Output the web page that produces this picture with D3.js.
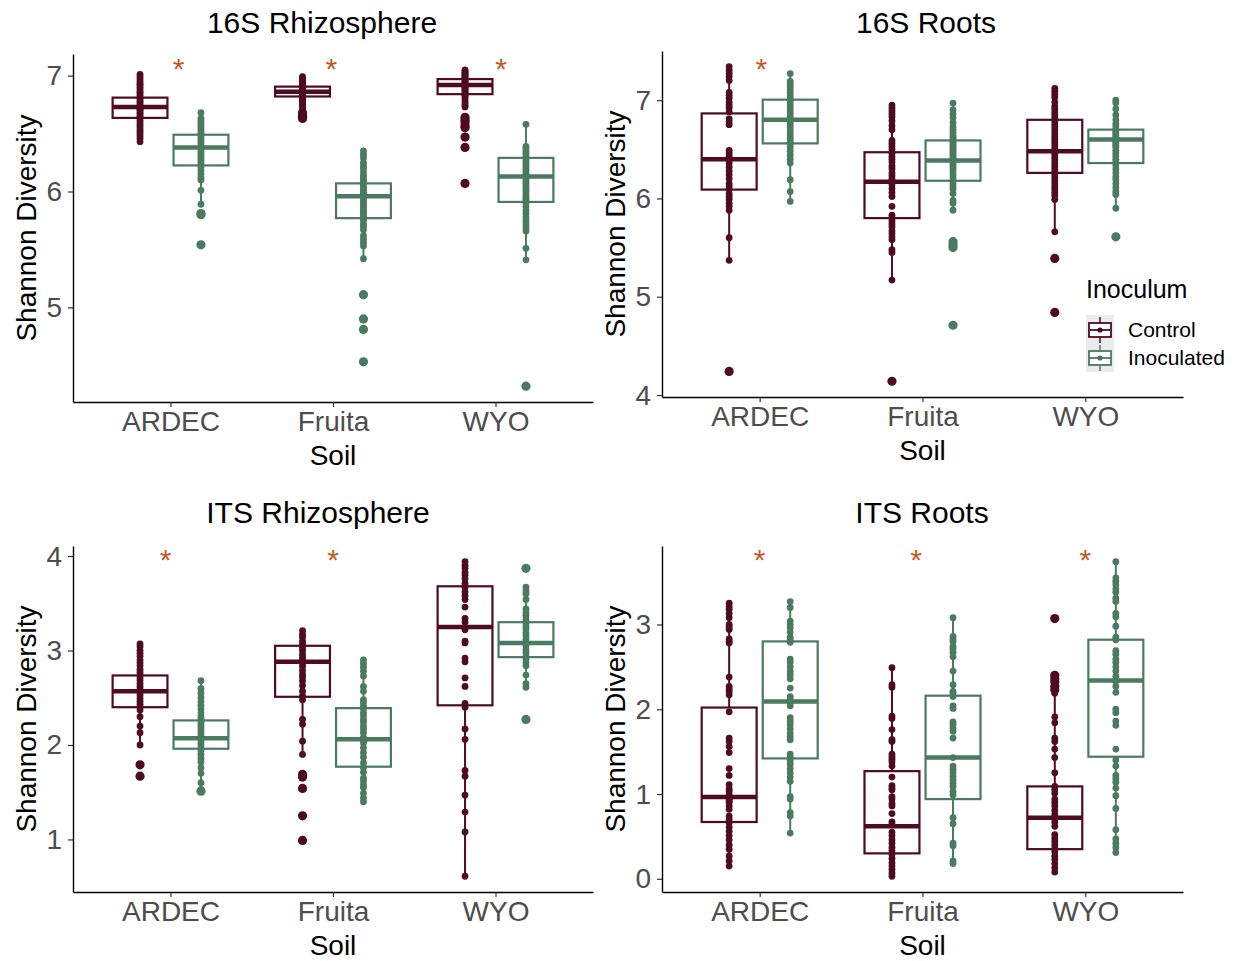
<!DOCTYPE html>
<html>
<head>
<meta charset="utf-8">
<script src="https://cdn.jsdelivr.net/npm/d3@7"></script>
<style>
  body { margin: 0; background: #fff; }
  text { font-family: "Liberation Sans", Arial, Helvetica, sans-serif; }
</style>
</head>
<body>
<div id="chart"></div>
<script>
// Shannon diversity boxplots, 4 panels

// Pt. 0 - DATA

const soils = ["ARDEC", "Fruita", "WYO"];
const treatments = ["Control", "Inoculated"];
const panelTitles = ["16S Rhizosphere", "16S Roots", "ITS Rhizosphere", "ITS Roots"];

// 16S Rhizosphere
const rhizo16Control = [
  [7.01, 6.99, 6.97, 6.95, 6.93, 6.92, 6.90, 6.88, 6.86, 6.85, 6.83, 6.81, 6.80, 6.78, 6.77, 6.75, 6.74, 6.73,
   6.72, 6.71, 6.70, 6.68, 6.67, 6.65, 6.64, 6.62, 6.60, 6.58, 6.56, 6.54, 6.52, 6.50, 6.48, 6.46, 6.43],
  [6.99, 6.98, 6.97, 6.96, 6.95, 6.94, 6.93, 6.92, 6.91, 6.90, 6.89, 6.88, 6.87, 6.86, 6.85, 6.84, 6.83, 6.82,
   6.81, 6.80, 6.79, 6.78, 6.77, 6.76, 6.75, 6.74, 6.72, 6.70, 6.68, 6.66, 6.65, 6.64, 6.63],
  [7.05, 7.04, 7.03, 7.02, 7.01, 7.00, 6.99, 6.98, 6.97, 6.96, 6.95, 6.94, 6.93, 6.92, 6.91, 6.90, 6.89, 6.88,
   6.87, 6.86, 6.85, 6.84, 6.83, 6.82, 6.80, 6.78, 6.76, 6.74, 6.73, 6.64, 6.62, 6.60, 6.57, 6.55, 6.47, 6.38, 6.07]
];
const rhizo16Inoc = [
  [6.68, 6.63, 6.61, 6.59, 6.57, 6.55, 6.53, 6.51, 6.49, 6.47, 6.45, 6.43, 6.41, 6.39, 6.38, 6.37, 6.35, 6.33,
   6.31, 6.29, 6.27, 6.25, 6.23, 6.21, 6.18, 6.15, 6.12, 6.10, 6.01, 5.89, 5.81, 5.80, 5.54],
  [6.35, 6.32, 6.29, 6.25, 6.22, 6.20, 6.17, 6.14, 6.12, 6.10, 6.08, 6.06, 6.04, 6.02, 6.00, 5.98, 5.97, 5.96,
   5.95, 5.93, 5.91, 5.89, 5.87, 5.85, 5.83, 5.81, 5.79, 5.77, 5.75, 5.72, 5.70, 5.67, 5.62, 5.59, 5.56, 5.53,
   5.42, 5.11, 4.90, 4.81, 4.53],
  [6.58, 6.39, 6.37, 6.35, 6.33, 6.31, 6.29, 6.27, 6.25, 6.23, 6.21, 6.19, 6.17, 6.15, 6.14, 6.13, 6.12, 6.10,
   6.08, 6.06, 6.04, 6.02, 6.00, 5.98, 5.96, 5.94, 5.92, 5.90, 5.87, 5.84, 5.81, 5.78, 5.75, 5.72, 5.69, 5.66,
   5.51, 5.41, 4.32]
];
const rhizo16ControlBox = [[6.635, 6.73, 6.81], [6.82, 6.86, 6.905], [6.84, 6.92, 6.97]];  // q1, median, q3
const rhizo16InocBox = [[6.225, 6.38, 6.49], [5.77, 5.96, 6.07], [5.91, 6.13, 6.29]];
const rhizo16Ticks = [5, 6, 7];
const rhizo16StarX = [1.05, 1.99, 3.035];
const rhizo16StarY = [7.09, 7.09, 7.09];

// 16S Roots
const roots16Control = [
  [7.34, 7.30, 7.27, 7.24, 7.20, 7.08, 7.05, 7.02, 6.98, 6.95, 6.92, 6.88, 6.81, 6.78, 6.75, 6.49, 6.46, 6.43,
   6.39, 6.36, 6.32, 6.28, 6.24, 6.20, 6.15, 6.12, 6.09, 6.05, 6.02, 5.99, 5.95, 5.92, 5.88, 5.60, 5.37, 4.24],
  [6.95, 6.92, 6.89, 6.86, 6.83, 6.79, 6.74, 6.70, 6.59, 6.56, 6.53, 6.50, 6.46, 6.43, 6.40, 6.37, 6.33, 6.30,
   6.26, 6.23, 6.20, 6.17, 6.14, 6.10, 6.06, 6.02, 5.92, 5.83, 5.80, 5.77, 5.74, 5.71, 5.67, 5.64, 5.61, 5.58,
   5.48, 5.45, 5.17, 4.14],
  [7.12, 7.09, 7.06, 7.03, 6.98, 6.94, 6.91, 6.88, 6.85, 6.82, 6.78, 6.75, 6.72, 6.69, 6.66, 6.63, 6.60, 6.57,
   6.54, 6.51, 6.48, 6.45, 6.42, 6.39, 6.36, 6.33, 6.30, 6.27, 6.24, 6.21, 6.18, 6.15, 6.12, 6.09, 6.06, 6.03,
   5.99, 5.66, 5.39, 4.84]
];
const roots16Inoc = [
  [7.27, 7.19, 7.16, 7.13, 7.10, 7.07, 7.04, 7.01, 6.98, 6.95, 6.92, 6.89, 6.86, 6.83, 6.80, 6.78, 6.76, 6.73,
   6.70, 6.67, 6.64, 6.61, 6.58, 6.55, 6.52, 6.48, 6.44, 6.40, 6.36, 6.19, 6.07, 5.97],
  [6.97, 6.90, 6.86, 6.82, 6.77, 6.73, 6.70, 6.67, 6.64, 6.62, 6.60, 6.58, 6.56, 6.54, 6.52, 6.50, 6.48, 6.46,
   6.44, 6.42, 6.40, 6.38, 6.36, 6.34, 6.32, 6.30, 6.27, 6.24, 6.21, 6.18, 6.15, 6.12, 6.09, 6.05, 5.98, 5.95,
   5.88, 5.56, 5.53, 5.50, 4.71],
  [7.00, 6.97, 6.91, 6.85, 6.80, 6.76, 6.73, 6.70, 6.68, 6.66, 6.64, 6.62, 6.60, 6.58, 6.56, 6.54, 6.52, 6.49,
   6.46, 6.43, 6.40, 6.37, 6.34, 6.30, 6.26, 6.22, 6.19, 6.15, 6.11, 6.07, 6.04, 5.90, 5.61]
];
const roots16ControlBox = [[6.09, 6.40, 6.865], [5.80, 6.17, 6.47], [6.26, 6.48, 6.80]];
const roots16InocBox = [[6.56, 6.80, 7.005], [6.18, 6.385, 6.59], [6.36, 6.60, 6.70]];
const roots16Ticks = [4, 5, 6, 7];
const roots16StarX = [1.01];
const roots16StarY = [7.355];

// ITS Rhizosphere
const rhizoItsControl = [
  [3.07, 3.04, 3.00, 2.97, 2.94, 2.90, 2.87, 2.84, 2.80, 2.77, 2.74, 2.71, 2.68, 2.65, 2.62, 2.59, 2.57, 2.55,
   2.52, 2.49, 2.46, 2.43, 2.40, 2.37, 2.30, 2.20, 2.13, 2.00, 1.79, 1.67],
  [3.21, 3.17, 3.14, 3.10, 3.07, 3.03, 3.00, 2.96, 2.93, 2.90, 2.86, 2.83, 2.79, 2.75, 2.72, 2.68, 2.63, 2.57,
   2.52, 2.48, 2.27, 2.22, 2.04, 1.90, 1.69, 1.66, 1.54, 1.25, 0.99],
  [3.94, 3.90, 3.87, 3.83, 3.80, 3.76, 3.71, 3.67, 3.62, 3.58, 3.54, 3.46, 3.34, 3.30, 3.24, 3.22, 3.10, 3.08,
   2.92, 2.88, 2.71, 2.62, 2.44, 2.40, 2.17, 2.06, 1.73, 1.67, 1.47, 1.29, 1.08, 0.61]
];
const rhizoItsInoc = [
  [2.68, 2.60, 2.55, 2.50, 2.46, 2.42, 2.38, 2.34, 2.30, 2.27, 2.24, 2.21, 2.18, 2.15, 2.12, 2.09, 2.06, 2.03,
   2.00, 1.97, 1.94, 1.90, 1.86, 1.82, 1.76, 1.70, 1.60, 1.53, 1.51],
  [2.90, 2.86, 2.82, 2.78, 2.73, 2.62, 2.57, 2.48, 2.45, 2.41, 2.38, 2.34, 2.31, 2.27, 2.24, 2.20, 2.17, 2.13,
   2.08, 2.05, 2.02, 1.97, 1.92, 1.87, 1.81, 1.76, 1.71, 1.65, 1.62, 1.58, 1.55, 1.49, 1.44, 1.40],
  [3.87, 3.67, 3.63, 3.60, 3.54, 3.44, 3.40, 3.37, 3.33, 3.30, 3.26, 3.23, 3.19, 3.16, 3.12, 3.08, 3.05, 3.01,
   2.98, 2.94, 2.91, 2.87, 2.84, 2.74, 2.65, 2.61, 2.27]
];
const rhizoItsControlBox = [[2.40, 2.57, 2.736], [2.51, 2.88, 3.05], [2.42, 3.25, 3.68]];
const rhizoItsInocBox = [[1.96, 2.07, 2.26], [1.77, 2.06, 2.39], [2.93, 3.08, 3.30]];
const rhizoItsTicks = [1, 2, 3, 4];
const rhizoItsStarX = [0.97, 2.0];
const rhizoItsStarY = [4.0, 4.0];

// ITS Roots
const rootsItsControl = [
  [3.25, 3.21, 3.18, 3.13, 3.08, 3.00, 2.97, 2.94, 2.83, 2.80, 2.78, 2.38, 2.27, 2.24, 2.21, 2.17, 1.97, 1.66,
   1.62, 1.56, 1.49, 1.30, 1.22, 1.11, 1.06, 1.03, 0.99, 0.97, 0.95, 0.94, 0.92, 0.90, 0.86, 0.82, 0.74, 0.70,
   0.66, 0.61, 0.56, 0.51, 0.46, 0.40, 0.35, 0.27, 0.21, 0.15],
  [2.49, 2.29, 2.26, 1.92, 1.89, 1.76, 1.64, 1.62, 1.47, 1.44, 1.41, 1.38, 1.33, 1.20, 1.10, 1.07, 1.05, 0.97,
   0.94, 0.89, 0.86, 0.77, 0.67, 0.64, 0.55, 0.51, 0.46, 0.42, 0.37, 0.33, 0.29, 0.24, 0.19, 0.15, 0.11, 0.07, 0.03],
  [3.07, 2.40, 2.36, 2.32, 2.27, 2.23, 2.19, 1.91, 1.84, 1.66, 1.62, 1.53, 1.43, 1.25, 1.09, 1.05, 1.01, 0.94,
   0.90, 0.86, 0.81, 0.76, 0.71, 0.67, 0.62, 0.52, 0.48, 0.44, 0.40, 0.36, 0.32, 0.27, 0.23, 0.18, 0.13, 0.08]
];
const rootsItsInoc = [
  [3.27, 3.20, 3.04, 3.00, 2.96, 2.91, 2.85, 2.82, 2.79, 2.59, 2.55, 2.50, 2.45, 2.41, 2.36, 2.25, 2.15, 2.12,
   2.08, 2.04, 1.90, 1.86, 1.82, 1.77, 1.72, 1.68, 1.64, 1.47, 1.43, 1.39, 1.35, 1.30, 1.25, 1.20, 1.15, 0.97,
   0.94, 0.78, 0.74, 0.54],
  [3.08, 2.86, 2.83, 2.80, 2.74, 2.71, 2.67, 2.62, 2.45, 2.29, 2.21, 2.19, 2.15, 2.04, 2.01, 1.85, 1.82, 1.78,
   1.74, 1.66, 1.43, 1.33, 1.29, 1.25, 1.21, 1.17, 1.13, 1.09, 1.03, 0.99, 0.72, 0.65, 0.42, 0.39, 0.21, 0.18],
  [3.74, 3.55, 3.51, 3.47, 3.42, 3.38, 3.31, 3.27, 3.13, 3.09, 2.98, 2.85, 2.82, 2.69, 2.65, 2.59, 2.55, 2.50,
   2.45, 2.39, 2.33, 2.27, 2.20, 2.00, 1.96, 1.86, 1.81, 1.53, 1.40, 1.33, 1.22, 1.18, 1.14, 1.07, 0.98, 0.83,
   0.58, 0.47, 0.42, 0.37, 0.31]
];
const rootsItsControlBox = [[0.67, 0.965, 2.02], [0.30, 0.62, 1.27], [0.35, 0.72, 1.09]];
const rootsItsInocBox = [[1.42, 2.09, 2.80], [0.94, 1.43, 2.16], [1.44, 2.34, 2.82]];
const rootsItsTicks = [0, 1, 2, 3];
const rootsItsStarX = [1.0, 1.96, 3.0];
const rootsItsStarY = [3.81, 3.81, 3.81];

// Pt. 1 - SETUP

const width = 1236,
      height = 961;

const colors = { Control: "#4f0b21", Inoculated: "#4a7a5f" };
const starColor = "#c8581c";

let svg = d3.select("#chart")
    .append("svg")
    .attr("width", width)
    .attr("height", height)
    .attr("viewBox", [0, 0, width, height]);

const panels = [
  { title: panelTitles[0], ctrl: rhizo16Control, inoc: rhizo16Inoc, ctrlBox: rhizo16ControlBox, inocBox: rhizo16InocBox,
    ticks: rhizo16Ticks, starX: rhizo16StarX, starY: rhizo16StarY,
    left: 73, right: 593, top: 54, bottom: 402, titleX: 322, titleY: 33 },
  { title: panelTitles[1], ctrl: roots16Control, inoc: roots16Inoc, ctrlBox: roots16ControlBox, inocBox: roots16InocBox,
    ticks: roots16Ticks, starX: roots16StarX, starY: roots16StarY,
    left: 662, right: 1183, top: 51, bottom: 397, titleX: 926, titleY: 33 },
  { title: panelTitles[2], ctrl: rhizoItsControl, inoc: rhizoItsInoc, ctrlBox: rhizoItsControlBox, inocBox: rhizoItsInocBox,
    ticks: rhizoItsTicks, starX: rhizoItsStarX, starY: rhizoItsStarY,
    left: 73, right: 593, top: 546, bottom: 892, titleX: 318, titleY: 523 },
  { title: panelTitles[3], ctrl: rootsItsControl, inoc: rootsItsInoc, ctrlBox: rootsItsControlBox, inocBox: rootsItsInocBox,
    ticks: rootsItsTicks, starX: rootsItsStarX, starY: rootsItsStarY,
    left: 662, right: 1183, top: 546, bottom: 892, titleX: 922, titleY: 523 }
];

// Pt. 2 - DRAW EACH PANEL

panels.forEach(p => {

    let g = svg.append("g");

    let x = d3.scalePoint()
        .domain(soils)
        .range([p.left, p.right])
        .padding(0.6);  // same spacing as a ggplot discrete axis

    // y domain from the data with 5% expansion
    const all = p.ctrl.flat().concat(p.inoc.flat());
    const [lo, hi] = d3.extent(all);
    const pad = (hi - lo) * 0.05;

    let y = d3.scaleLinear()
        .domain([lo - pad, hi + pad])
        .range([p.bottom, p.top]);

    const step = x.step(),
          dodge = 0.1875 * step,
          bw = 0.3375 * step;

    // one record per box
    let groups = [];
    soils.forEach((s, i) => {
        [[treatments[0], p.ctrl[i], p.ctrlBox[i], -1], [treatments[1], p.inoc[i], p.inocBox[i], 1]]
            .forEach(([trt, pts, box, side]) => {
                const [q1, med, q3] = box;
                const iqr = q3 - q1;
                const inside = pts.filter(v => v >= q1 - 1.5 * iqr && v <= q3 + 1.5 * iqr);
                groups.push({
                    soil: s, trt, pts, q1, med, q3,
                    wlo: d3.min(inside), whi: d3.max(inside),
                    out: pts.filter(v => v < q1 - 1.5 * iqr || v > q3 + 1.5 * iqr),
                    cx: x(s) + side * dodge
                });
            });
    });

    // whiskers
    g.selectAll(".whisker")
        .data(groups)
        .join("line")
        .attr("x1", d => d.cx)
        .attr("x2", d => d.cx)
        .attr("y1", d => y(d.whi))
        .attr("y2", d => y(d.wlo))
        .attr("stroke", d => colors[d.trt])
        .attr("stroke-width", 2);

    // boxes
    g.selectAll(".box")
        .data(groups)
        .join("rect")
        .attr("x", d => d.cx - bw / 2)
        .attr("y", d => y(d.q3))
        .attr("width", bw)
        .attr("height", d => y(d.q1) - y(d.q3))
        .attr("fill", "white")
        .attr("stroke", d => colors[d.trt])
        .attr("stroke-width", 2.2);

    // medians
    g.selectAll(".median")
        .data(groups)
        .join("line")
        .attr("x1", d => d.cx - bw / 2)
        .attr("x2", d => d.cx + bw / 2)
        .attr("y1", d => y(d.med))
        .attr("y2", d => y(d.med))
        .attr("stroke", d => colors[d.trt])
        .attr("stroke-width", 4.5);

    // outliers (boxplot layer, bigger dots)
    const outPts = groups.flatMap(d => d.out.map(v => ({ v, cx: d.cx, trt: d.trt })));
    g.selectAll(".outlier")
        .data(outPts)
        .join("circle")
        .attr("cx", d => d.cx)
        .attr("cy", d => y(d.v))
        .attr("r", 4.6)
        .attr("fill", d => colors[d.trt]);

    // all the points on top
    const pts = groups.flatMap(d => d.pts.map(v => ({ v, cx: d.cx, trt: d.trt })));
    g.selectAll(".pt")
        .data(pts)
        .join("circle")
        .attr("cx", d => d.cx)
        .attr("cy", d => y(d.v))
        .attr("r", 3.4)
        .attr("fill", d => colors[d.trt]);

    // significance stars
    g.selectAll(".star")
        .data(p.starX.map((sx, i) => ({ sx, sy: p.starY[i] })))
        .join("text")
        .attr("x", d => x(soils[0]) + (d.sx - 1) * step)
        .attr("y", d => y(d.sy) + 14)
        .attr("text-anchor", "middle")
        .attr("font-size", 30)
        .attr("fill", starColor)
        .text("*");

    // axes
    let xAxis = g.append("g")
        .attr("transform", `translate(0, ${p.bottom})`)
        .call(d3.axisBottom(x).tickSize(5).tickPadding(4).tickSizeOuter(0));

    let yAxis = g.append("g")
        .attr("transform", `translate(${p.left}, 0)`)
        .call(d3.axisLeft(y).tickValues(p.ticks).tickFormat(d3.format("d"))
            .tickSize(5).tickPadding(6).tickSizeOuter(0));

    [xAxis, yAxis].forEach(a => {
        a.select(".domain").attr("stroke", "#000").attr("stroke-width", 1.4);
        a.selectAll(".tick line").attr("stroke", "#333").attr("stroke-width", 1.2);
        a.selectAll(".tick text")
            .attr("fill", "#4d4d4d")
            .attr("font-size", 28)
            .attr("font-family", "Liberation Sans, Arial, sans-serif");
    });

    // titles
    g.append("text")
        .attr("x", p.titleX)
        .attr("y", p.titleY)
        .attr("text-anchor", "middle")
        .attr("font-size", 30)
        .attr("fill", "#000")
        .text(p.title);

    g.append("text")
        .attr("x", (p.left + p.right) / 2)
        .attr("y", p.bottom + 63)
        .attr("text-anchor", "middle")
        .attr("font-size", 28)
        .attr("fill", "#000")
        .text("Soil");

    g.append("text")
        .attr("transform", `translate(${p.left - 37}, ${(p.top + p.bottom) / 2}) rotate(-90)`)
        .attr("text-anchor", "middle")
        .attr("font-size", 28)
        .attr("fill", "#000")
        .text("Shannon Diversity");
});

// Pt. 3 - LEGEND

let legend = svg.append("g")
    .attr("transform", "translate(1086, 0)");

legend.append("text")
    .attr("x", 0)
    .attr("y", 298)
    .attr("font-size", 25)
    .text("Inoculum");

legend.append("rect")
    .attr("x", 0)
    .attr("y", 315)
    .attr("width", 28)
    .attr("height", 57)
    .attr("fill", "#ebebeb");

let key = legend.selectAll(".key")
    .data(treatments)
    .join("g")
    .attr("transform", (d, i) => `translate(14, ${330 + i * 28})`);

key.append("line")
    .attr("y1", -13).attr("y2", 13)
    .attr("stroke", d => colors[d]).attr("stroke-width", 1.5);

key.append("rect")
    .attr("x", -11).attr("y", -7)
    .attr("width", 22).attr("height", 14)
    .attr("fill", "white")
    .attr("stroke", d => colors[d]).attr("stroke-width", 1.8);

key.append("line")
    .attr("x1", -11).attr("x2", 11)
    .attr("stroke", d => colors[d]).attr("stroke-width", 1.8);

key.append("circle")
    .attr("r", 2.6)
    .attr("fill", d => colors[d]);

key.append("text")
    .attr("x", 28)
    .attr("y", 0)
    .attr("dy", "0.35em")
    .attr("font-size", 21)
    .text(d => d);
</script>
</body>
</html>
